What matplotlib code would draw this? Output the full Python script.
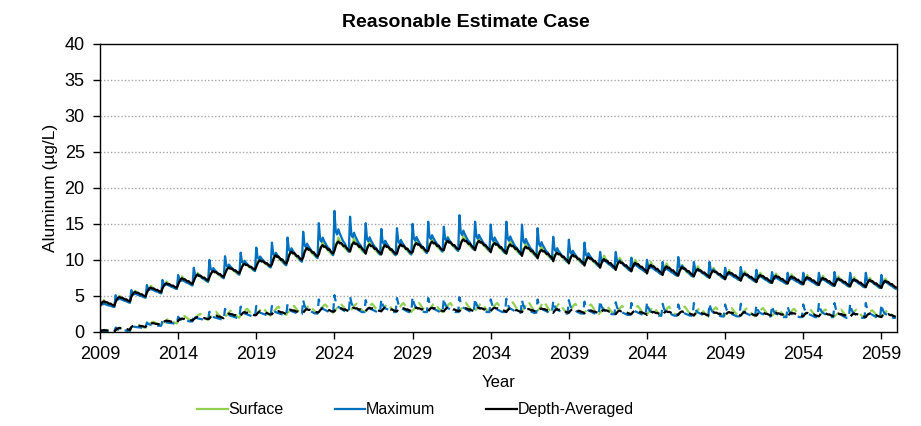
import numpy as np
import matplotlib.pyplot as plt

plt.rcParams['font.family'] = ['Liberation Sans', 'DejaVu Sans']

years = list(range(2009, 2060))

# solid group (read per year off the chart)
avg_mid = [3.9, 4.5, 5.2, 5.8, 6.4, 7.0, 7.5, 8.0, 8.5, 9.0,
           9.5, 10.0, 10.5, 11.0, 11.4, 11.9, 11.8, 11.5, 11.4, 11.5,
           11.7, 11.9, 12.0, 12.2, 12.0, 11.7, 11.5, 11.2, 10.8, 10.4,
           10.1, 9.8, 9.5, 9.2, 9.0, 8.7, 8.5, 8.4, 8.2, 8.0,
           7.8, 7.6, 7.4, 7.3, 7.2, 7.1, 7.0, 6.9, 6.8, 6.7, 6.6]
avg_swing = [0.7] * 5 + [0.9] * 6 + [1.3] * 17 + [1.2] * 10 + [1.0] * 13
max_peak = [4.3, 5.1, 5.8, 6.5, 7.2, 7.9, 8.9, 10.0, 10.5, 11.0,
            11.7, 12.4, 13.1, 13.9, 15.1, 16.8, 16.0, 15.1, 14.3, 14.4,
            15.0, 15.3, 14.6, 16.2, 15.3, 14.9, 15.3, 14.9, 14.4, 13.2,
            12.8, 12.4, 11.1, 11.1, 10.3, 10.0, 9.7, 10.4, 9.7, 9.7,
            8.9, 9.0, 8.6, 8.3, 8.2, 8.2, 8.2, 8.3, 8.2, 8.2, 7.9]
surf_peak = [4.4, 5.0, 5.7, 6.4, 7.0, 7.7, 8.2, 8.8, 9.3, 9.9,
             10.4, 11.0, 11.6, 12.1, 12.6, 13.1, 13.0, 12.7, 12.6, 12.7,
             12.9, 13.1, 13.2, 13.4, 13.2, 12.9, 12.7, 12.4, 12.0, 11.5,
             11.2, 10.9, 10.6, 10.3, 10.0, 9.7, 9.5, 9.3, 9.1, 8.9,
             8.6, 8.4, 8.2, 8.1, 8.0, 7.9, 7.8, 7.7, 7.6, 7.5, 7.4]

# dashed group
avg_mid_d = [0.1, 0.4, 0.8, 1.1, 1.4, 1.7, 1.9, 2.1, 2.3, 2.5,
             2.6, 2.7, 2.8, 2.9, 3.0, 3.1, 3.1, 3.1, 3.1, 3.1,
             3.1, 3.1, 3.1, 3.1, 3.1, 3.1, 3.0, 3.0, 3.0, 2.9,
             2.9, 2.8, 2.8, 2.7, 2.7, 2.6, 2.6, 2.6, 2.5, 2.5,
             2.5, 2.5, 2.5, 2.4, 2.4, 2.4, 2.4, 2.3, 2.3, 2.3, 2.3]
avg_swing_d = [0.3] * 7 + [0.5] * 44
max_peak_d = [0.3, 0.6, 1.0, 1.3, 1.7, 2.1, 2.4, 2.8, 3.2, 3.5,
              3.6, 3.6, 3.9, 4.4, 4.5, 5.1, 4.9, 4.4, 4.5, 4.7,
              4.8, 4.7, 4.6, 4.8, 4.6, 4.5, 4.6, 4.4, 4.5, 4.3,
              4.4, 4.2, 4.3, 4.1, 4.0, 4.1, 3.9, 3.8, 4.0, 3.9,
              3.8, 3.9, 3.7, 3.6, 3.5, 3.8, 4.0, 4.0, 3.9, 4.0, 3.8]
surf_peak_d = [0.2, 0.6, 1.0, 1.4, 1.8, 2.2, 2.5, 2.8, 3.0, 3.2,
               3.4, 3.5, 3.6, 3.7, 3.8, 3.9, 3.9, 3.9, 3.9, 4.0,
               4.0, 4.0, 4.0, 4.0, 4.0, 4.0, 4.1, 4.2, 4.2, 4.0,
               3.9, 3.8, 3.7, 3.6, 3.6, 3.5, 3.5, 3.5, 3.4, 3.4,
               3.3, 3.3, 3.3, 3.2, 3.2, 3.2, 3.1, 3.1, 3.1, 3.0, 3.0]

# position within each year's low..high range, month by month
avg_shape = [0.0, 0.5, 0.85, 1.0, 0.8, 0.85, 0.7, 0.5, 0.55, 0.35, 0.2, 0.1]
max_shape = [1.0, 0.5, 0.42, 0.55, 0.45, 0.38, 0.3, 0.24, 0.2, 0.12, 0.05, 0.0]
surf_shape = [0.55, 0.5, 0.6, 1.0, 0.8, 0.6, 0.45, 0.35, 0.25, 0.15, 0.05, 0.0]
max_shape_d = [1.0, 0.6, 0.4, 0.3, 0.25, 0.2, 0.15, 0.1, 0.05, 0.0, 0.0, 0.0]
surf_shape_d = [0.2, 0.3, 0.5, 0.7, 0.9, 1.0, 0.8, 0.6, 0.4, 0.25, 0.1, 0.0]


def build(low, high, shape):
    vals = []
    for lo, hi in zip(low, high):
        vals += [lo + f * (hi - lo) for f in shape]
    return np.array(vals)


t = np.repeat(years, 12) + np.tile(np.arange(12) / 12, len(years))

mid, sw = np.array(avg_mid), np.array(avg_swing)
lo, hi = mid - sw / 2, mid + sw / 2
avg = build(lo, hi, avg_shape)
mx = build(lo - 0.1, max_peak, max_shape)
sf = build(lo - 0.1, surf_peak, surf_shape)

mid_d, sw_d = np.array(avg_mid_d), np.array(avg_swing_d)
lo_d, hi_d = np.maximum(mid_d - sw_d / 2, 0), mid_d + sw_d / 2
avg_d = build(lo_d, hi_d, avg_shape)
mx_d = build(np.maximum(lo_d - 0.1, 0), max_peak_d, max_shape_d)
sf_d = build(np.maximum(lo_d - 0.1, 0), surf_peak_d, surf_shape_d)

green = '#92D050'
blue = '#0070C0'
dash = (0, (4, 2.5))

fig = plt.figure(figsize=(9.21, 4.26), dpi=100)
ax = fig.add_axes([0.1086, 0.221, 0.8654, 0.676])

ax.plot(t, sf_d, color=green, lw=1.6, ls=dash)
ax.plot(t, mx_d, color=blue, lw=1.6, ls=dash)
ax.plot(t, avg_d, color='black', lw=1.6, ls=dash)
l1, = ax.plot(t, sf, color=green, lw=1.6)
l2, = ax.plot(t, mx, color=blue, lw=1.6)
l3, = ax.plot(t, avg, color='black', lw=1.6)

ax.set_xlim(2009, 2060)
ax.set_ylim(0, 40)
ax.set_xticks(range(2009, 2060, 5))
ax.set_yticks(range(0, 41, 5))
ax.tick_params(direction='out', length=5, labelsize=13, width=1)
ax.tick_params(axis='y', pad=6)
ax.tick_params(axis='x', pad=5)
for y in range(5, 40, 5):
    ax.axhline(y, color='#a6a6a6', lw=1, ls=(0, (1, 1.5)), zorder=0)
for s in ax.spines.values():
    s.set_linewidth(1.0)

ax.set_xlabel('Year', fontsize=12, labelpad=9)
ax.set_ylabel('Aluminum (\u00b5g/L)', fontsize=12.5, labelpad=5)
fig.text(0.506, 0.948, 'Reasonable Estimate Case', ha='center', va='center',
         fontsize=14, fontweight='bold')

fig.legend([l1, l2, l3], ['Surface', 'Maximum', 'Depth-Averaged'], ncol=3,
           loc='center', bbox_to_anchor=(0.451, 0.038), frameon=False,
           fontsize=11.5, handlelength=1.9, handletextpad=0.05, columnspacing=3.2)

fig.savefig('out.png', dpi=100)
